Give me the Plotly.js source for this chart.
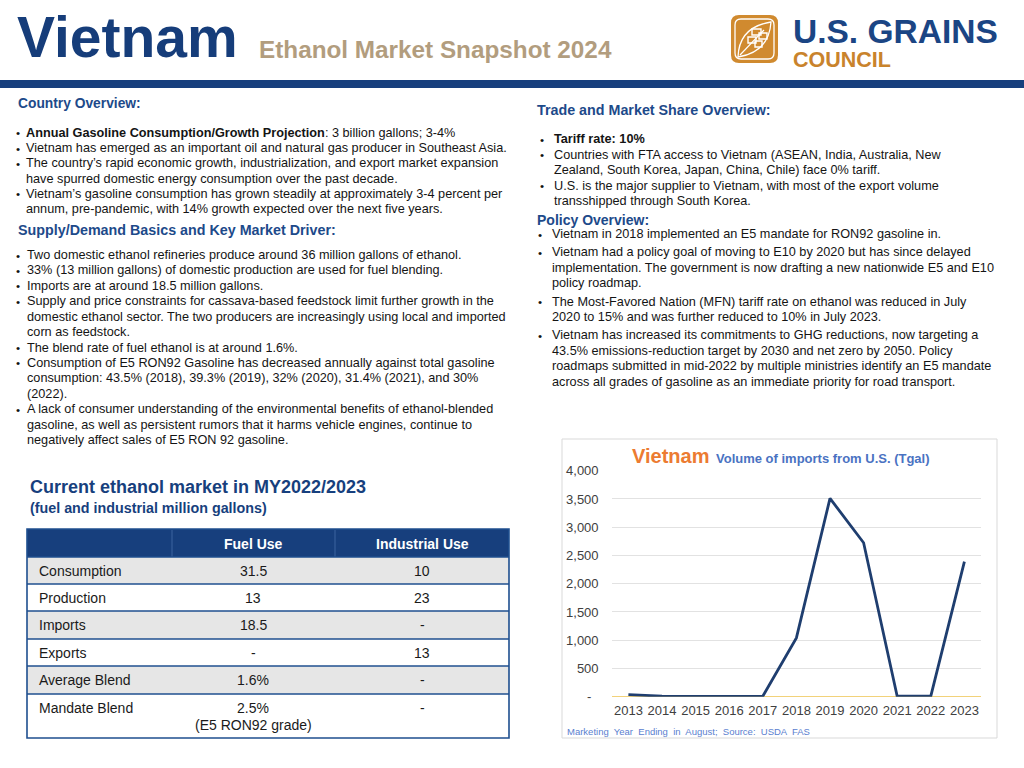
<!DOCTYPE html>
<html>
<head>
<meta charset="utf-8">
<script src="https://cdn.plot.ly/plotly-3.0.1.min.js"></script>
<style>
html,body{margin:0;padding:0;background:#fff;}
#chart{width:1024px;height:768px;}
</style>
</head>
<body>
<div id="chart"></div>
<script>
// ---------------- DATA ----------------
const years = ['2013','2014','2015','2016','2017','2018','2019','2020','2021','2022','2023'];
const importsTgal = [35, 10, 5, 5, 8, 1040, 3510, 2725, 8, 10, 2390];
const yTickVals = [0, 500, 1000, 1500, 2000, 2500, 3000, 3500, 4000];
const yTickText = ['-\u00a0\u00a0', '500', '1,000', '1,500', '2,000', '2,500', '3,000', '3,500', '4,000'];

const tableHeaders = ['', 'Fuel Use', 'Industrial Use'];
const tableRows = ['Consumption', 'Production', 'Imports', 'Exports', 'Average Blend', 'Mandate Blend'];
const fuelUse = ['31.5', '13', '18.5', '-', '1.6%', '2.5%|(E5 RON92 grade)'];
const industrialUse = ['10', '23', '-', '13', '-', '-'];

const countryOverview = [
  ['<b>Annual Gasoline Consumption/Growth Projection</b>: 3 billion gallons; 3-4%'],
  ['Vietnam has emerged as an important oil and natural gas producer in Southeast Asia.'],
  ['The country’s rapid economic growth, industrialization, and export market expansion',
   'have spurred domestic energy consumption over the past decade.'],
  ['Vietnam’s gasoline consumption has grown steadily at approximately 3-4 percent per',
   'annum, pre-pandemic, with 14% growth expected over the next five years.']
];
const supplyDemand = [
  ['Two domestic ethanol refineries produce around 36 million gallons of ethanol.'],
  ['33% (13 million gallons) of domestic production are used for fuel blending.'],
  ['Imports are at around 18.5 million gallons.'],
  ['Supply and price constraints for cassava-based feedstock limit further growth in the',
   'domestic ethanol sector. The two producers are increasingly using local and imported',
   'corn as feedstock.'],
  ['The blend rate of fuel ethanol is at around 1.6%.'],
  ['Consumption of E5 RON92 Gasoline has decreased annually against total gasoline',
   'consumption: 43.5% (2018), 39.3% (2019), 32% (2020), 31.4% (2021), and 30%',
   '(2022).'],
  ['A lack of consumer understanding of the environmental benefits of ethanol-blended',
   'gasoline, as well as persistent rumors that it harms vehicle engines, continue to',
   'negatively affect sales of E5 RON 92 gasoline.']
];
const tradeOverview = [
  ['<b>Tariff rate: 10%</b>'],
  ['Countries with FTA access to Vietnam (ASEAN, India, Australia, New',
   'Zealand, South Korea, Japan, China, Chile) face 0% tariff.'],
  ['U.S. is the major supplier to Vietnam, with most of the export volume',
   'transshipped through South Korea.']
];
const policyOverview = [
  ['Vietnam in 2018 implemented an E5 mandate for RON92 gasoline in.'],
  ['Vietnam had a policy goal of moving to E10 by 2020 but has since delayed',
   'implementation. The government is now drafting a new nationwide E5 and E10',
   'policy roadmap.'],
  ['The Most-Favored Nation (MFN) tariff rate on ethanol was reduced in July',
   '2020 to 15% and was further reduced to 10% in July 2023.'],
  ['Vietnam has increased its commitments to GHG reductions, now targeting a',
   '43.5% emissions-reduction target by 2030 and net zero by 2050. Policy',
   'roadmaps submitted in mid-2022 by multiple ministries identify an E5 mandate',
   'across all grades of gasoline as an immediate priority for road transport.']
];

// ---------------- LAYOUT HELPERS ----------------
const W = 1024, H = 768;
const X = px => px / W;
const Y = py => 1 - py / H;
const FONT = 'Liberation Sans, Arial, sans-serif';
const NARROW = 'Liberation Sans Narrow, Arial Narrow, sans-serif';
const NAVY = '#173f7d';
const HEAD = '#1d4a8a';
const TEXT = '#141414';
const BODY = 12.7;

const annotations = [];
const shapes = [];

function txt(x, y, text, o) {
  o = o || {};
  annotations.push({
    xref: 'paper', yref: 'paper', x: X(x), y: Y(y),
    xanchor: o.xa || 'left', yanchor: o.ya || 'middle',
    text: text, showarrow: false, borderpad: 0,
    align: o.align || 'left',
    font: {family: o.family || FONT, size: o.size || 12, color: o.color || TEXT}
  });
}
function rect(x0, y0, x1, y1, fill, line, lw) {
  shapes.push({type: 'rect', xref: 'paper', yref: 'paper',
    x0: X(x0), x1: X(x1), y0: Y(y1), y1: Y(y0),
    fillcolor: fill || 'rgba(0,0,0,0)', line: {color: line || 'rgba(0,0,0,0)', width: lw || 0}, layer: 'below'});
}
function hline(x0, x1, y, color, w) {
  shapes.push({type: 'line', xref: 'paper', yref: 'paper', x0: X(x0), x1: X(x1), y0: Y(y), y1: Y(y),
    line: {color: color, width: w}});
}
function vline(x, y0, y1, color, w) {
  shapes.push({type: 'line', xref: 'paper', yref: 'paper', x0: X(x), x1: X(x), y0: Y(y0), y1: Y(y1),
    line: {color: color, width: w}});
}
function P(x, y) { return X(x) + ',' + Y(y); }
function rrPath(x0, y0, x1, y1, r) {
  return 'M' + P(x0 + r, y0) + ' L' + P(x1 - r, y0) + ' Q' + P(x1, y0) + ' ' + P(x1, y0 + r) +
    ' L' + P(x1, y1 - r) + ' Q' + P(x1, y1) + ' ' + P(x1 - r, y1) +
    ' L' + P(x0 + r, y1) + ' Q' + P(x0, y1) + ' ' + P(x0, y1 - r) +
    ' L' + P(x0, y0 + r) + ' Q' + P(x0, y0) + ' ' + P(x0 + r, y0) + ' Z';
}
function bullets(list, bx, tx, y0, step, gap, size) {
  let y = y0;
  list.forEach(b => {
    b.forEach((line, i) => {
      if (i === 0) txt(bx, y, '•', {size: size - 1});
      txt(tx, y, line, {size: size});
      y += step;
    });
    y += gap;
  });
}

// ---------------- HEADER ----------------
txt(16, 37, '<b>Vietnam</b>', {size: 57, color: '#163d7a'});
txt(258, 49, '<b>Ethanol Market Snapshot 2024</b>', {size: 24.3, color: '#b29d7e', family: NARROW});
// logo
shapes.push({type: 'path', xref: 'paper', yref: 'paper', path: rrPath(731, 15, 778, 63, 8),
  fillcolor: '#d08a2f', line: {width: 0}});
shapes.push({type: 'path', xref: 'paper', yref: 'paper', path: rrPath(735, 19, 774, 59, 6),
  fillcolor: 'rgba(0,0,0,0)', line: {color: '#ffffff', width: 1.3}});
shapes.push({type: 'path', xref: 'paper', yref: 'paper',
  path: 'M' + P(738, 57) + ' Q' + P(739, 27) + ' ' + P(771, 22) + ' Q' + P(769, 52) + ' ' + P(738, 57) + ' Z',
  fillcolor: 'rgba(0,0,0,0)', line: {color: '#ffffff', width: 1.3}});
shapes.push({type: 'path', xref: 'paper', yref: 'paper',
  path: 'M' + P(740, 55) + ' L' + P(764, 30),
  line: {color: '#ffffff', width: 1.2}});
[[752, 29, 761, 35], [759, 33, 767, 39], [748, 37, 756, 43], [755, 41, 762, 47]].forEach(r => {
  shapes.push({type: 'rect', xref: 'paper', yref: 'paper', x0: X(r[0]), x1: X(r[2]), y0: Y(r[3]), y1: Y(r[1]),
    fillcolor: 'rgba(0,0,0,0)', line: {color: '#ffffff', width: 1.4}});
});
// stacked logo wordmark as one text block
txt(792, 42, '<span style="font-size:33.5px;color:#1b4584"><b>U.S. GRAINS</b></span><br>' +
  '<span style="font-size:21.5px;color:#c9832c"><b>COUNCIL</b></span>', {size: 18.5, color: '#1b4584'});
rect(0, 80, 1024, 88, NAVY);

// ---------------- TEXT SECTIONS ----------------
txt(17, 103, '<b>Country Overview:</b>', {size: 13.8, color: HEAD});
bullets(countryOverview, 15, 25, 132.7, 15.3, 0, BODY);
txt(17, 230, '<b>Supply/Demand Basics and Key Market Driver:</b>', {size: 14.3, color: HEAD});
bullets(supplyDemand, 15, 26, 255, 15.42, 0, BODY);

txt(536, 110, '<b>Trade and Market Share Overview:</b>', {size: 14.3, color: HEAD});
bullets(tradeOverview, 539, 552.5, 139, 15.5, 0, BODY);
txt(536, 219.5, '<b>Policy Overview:</b>', {size: 14, color: HEAD});
bullets(policyOverview, 537, 550.5, 234.3, 15.5, 2.6, BODY);

// ---------------- TABLE ----------------
txt(29, 487, '<b>Current ethanol market in MY2022/2023</b>', {size: 18, color: '#173f7d'});
txt(29, 508, '<b>(fuel and industrial million gallons)</b>', {size: 14.3, color: '#173f7d'});
const tL = 27, tR = 509, hTop = 529, hBot = 557;
const rowEdges = [557, 584, 611, 639, 666, 694, 738];
const colX = [38, 253, 422];
const colDiv = [172, 335];
rect(tL, hTop, tR, hBot, NAVY);
colDiv.forEach(cx => vline(cx, hTop + 1, hBot, '#3c64a0', 1));
tableHeaders.forEach((h, i) => { if (h) txt(colX[i], 543.5, '<b>' + h + '</b>', {size: 14, color: '#ffffff', xa: 'center'}); });
tableRows.forEach((r, i) => {
  const y0 = rowEdges[i], y1 = rowEdges[i + 1];
  rect(tL, y0, tR, y1, i % 2 === 0 ? '#e6e6e6' : '#ffffff');
  const tall = (y1 - y0) > 35;
  const yc = tall ? y0 + 13.5 : (y0 + y1) / 2;
  txt(colX[0], yc, r, {size: 14, color: '#1a1a1a'});
  fuelUse[i].split('|').forEach((s, k) => txt(colX[1], yc + k * 17, s, {size: 14, color: '#1a1a1a', xa: 'center'}));
  txt(colX[2], yc, industrialUse[i], {size: 14, color: '#1a1a1a', xa: 'center'});
});
rowEdges.slice(0, -1).forEach(e => hline(tL, tR, e, '#1f4f8f', 1.6));
shapes.push({type: 'rect', xref: 'paper', yref: 'paper', x0: X(tL), x1: X(tR), y0: Y(738), y1: Y(hTop),
  line: {color: '#1f4f8f', width: 1.6}, fillcolor: 'rgba(0,0,0,0)'});

// ---------------- CHART FRAME ----------------
rect(562, 439, 997, 738, '#ffffff', '#d9d9d9', 1);
txt(631, 456, '<b>Vietnam</b>', {size: 20, color: '#ec7b31'});
txt(715, 458, '<b>Volume of imports from U.S. (Tgal)</b>', {size: 13, color: '#4a72c2'});
txt(566, 731, 'Marketing  Year  Ending  in  August;  Source:  USDA  FAS', {size: 9.5, color: '#5a80cf'});

const trace = {
  type: 'scatter', mode: 'lines', x: years, y: importsTgal,
  line: {color: '#1f3e6f', width: 2.8}, hoverinfo: 'x+y', cliponaxis: false
};

const layout = {
  width: W, height: H,
  margin: {l: 0, r: 0, t: 0, b: 0, pad: 0},
  paper_bgcolor: '#ffffff', plot_bgcolor: 'rgba(0,0,0,0)',
  showlegend: false,
  xaxis: {
    domain: [X(611.6), X(981.2)], type: 'category', range: [-0.5, 10.5],
    showgrid: false, zeroline: false, showline: false, ticks: '',
    tickfont: {family: FONT, size: 13, color: '#404040'}, ticklabelstandoff: 4, fixedrange: true
  },
  yaxis: {
    domain: [Y(696.7), Y(470.7)], range: [0, 4000],
    tickvals: yTickVals, ticktext: yTickText,
    showgrid: true, gridcolor: '#e2e2e2', gridwidth: 1,
    zeroline: true, zerolinecolor: '#f2d27a', zerolinewidth: 1.2,
    showline: false, ticks: '', ticklabelstandoff: 12,
    tickfont: {family: FONT, size: 13, color: '#404040'}, fixedrange: true
  },
  shapes: shapes,
  annotations: annotations
};

Plotly.newPlot('chart', [trace], layout, {displayModeBar: false, staticPlot: true});
</script>
</body>
</html>
